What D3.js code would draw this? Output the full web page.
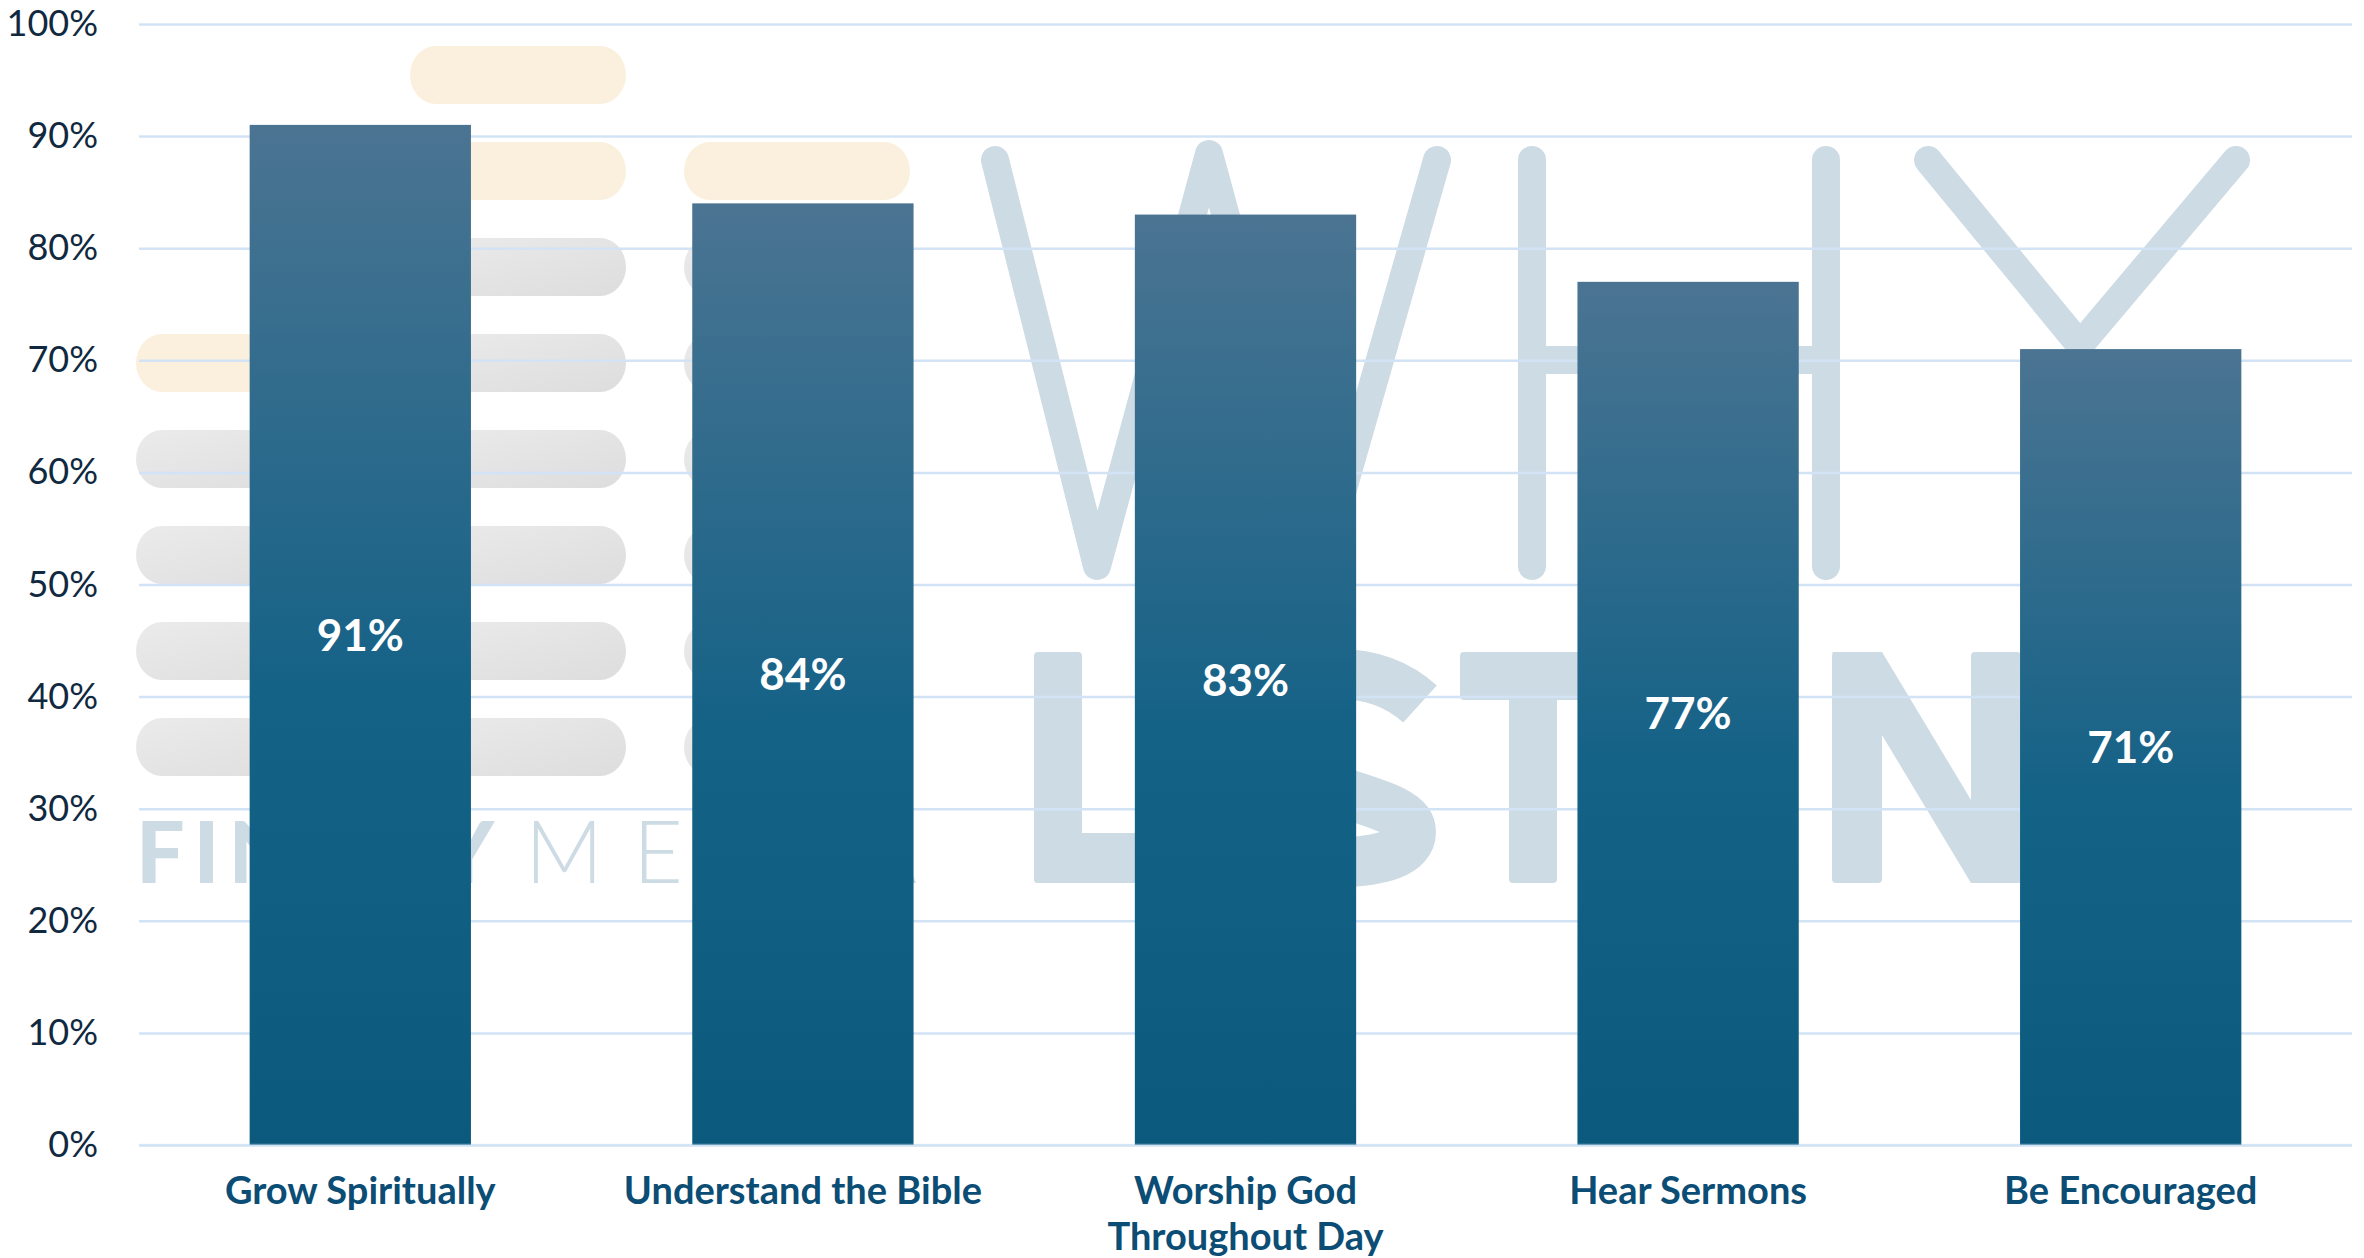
<!DOCTYPE html>
<html><head><meta charset="utf-8">
<script src="https://cdn.jsdelivr.net/npm/d3@7"></script>
<style>
html,body{margin:0;padding:0;background:#fff;}
svg{display:block;}
</style></head>
<body>
<svg id="chart" width="2364" height="1258"></svg>
<script>
// ---------- DATA ----------
const categories = ["Grow Spiritually", "Understand the Bible", "Worship God Throughout Day", "Hear Sermons", "Be Encouraged"];
const values = [91, 84, 83, 77, 71];
const yTicks = [0, 10, 20, 30, 40, 50, 60, 70, 80, 90, 100];
const yTickLabels = ["0%", "10%", "20%", "30%", "40%", "50%", "60%", "70%", "80%", "90%", "100%"];
const valueLabels = ["91%", "84%", "83%", "77%", "71%"];

// ---------- SETUP ----------
const W = 2364, H = 1258;
const plot = {left: 139, right: 2352, top: 24, bottom: 1145};
const FONT = "Lato, 'Open Sans', sans-serif";
const svg = d3.select("#chart");

const x = d3.scaleBand().domain(categories).range([plot.left, plot.right]).paddingInner(0.5).paddingOuter(0.25);
const y = d3.scaleLinear().domain([0, 100]).range([plot.bottom, plot.top]);

const defs = svg.append("defs");
const bg = defs.append("linearGradient").attr("id", "barGrad").attr("x1", 0).attr("y1", 0).attr("x2", 0).attr("y2", 1);
[[0, "#4b7492"], [0.28, "#2f6b8c"], [0.55, "#156287"], [1, "#0b5a7d"]].forEach(s =>
  bg.append("stop").attr("offset", s[0]).attr("stop-color", s[1]));
const pg = defs.append("linearGradient").attr("id", "pillGrey").attr("x1", 0).attr("y1", 0).attr("x2", 1).attr("y2", 1);
pg.append("stop").attr("offset", 0).attr("stop-color", "#ebebeb");
pg.append("stop").attr("offset", 1).attr("stop-color", "#dddddd");

// ---------- BACKGROUND WATERMARK (decoration) ----------
const wm = svg.append("g").attr("class", "watermark");
const WMC = "#cddbe4";
const cream = "#faf0dd", grey = "url(#pillGrey)";
const colLeft = [136, 410, 684], colW = [216, 216, 226];
const pillRows = [
  [null, cream, null],
  [null, cream, cream],
  [null, grey, grey],
  [cream, grey, grey],
  [grey, grey, grey],
  [grey, grey, grey],
  [grey, grey, grey],
  [grey, grey, grey]
];
pillRows.forEach((row, r) => row.forEach((c, ci) => {
  if (!c) return;
  wm.append("rect").attr("x", colLeft[ci]).attr("y", 46 + r * 96)
    .attr("width", colW[ci]).attr("height", 58).attr("rx", 26).attr("ry", 29).attr("fill", c);
}));
wm.append("text").attr("x", 136).attr("y", 883).attr("font-family", FONT).attr("font-weight", 900)
  .attr("font-size", 86).attr("fill", WMC).attr("textLength", 358).attr("lengthAdjust", "spacing").text("FINNEY");
wm.append("text").attr("x", 525).attr("y", 883).attr("font-family", FONT).attr("font-weight", 300)
  .attr("font-size", 86).attr("fill", WMC).attr("letter-spacing", 30).text("MEDIA");

// WHY (thin strokes)
const thin = wm.append("g").attr("fill", "none").attr("stroke", WMC).attr("stroke-width", 28)
  .attr("stroke-linecap", "round").attr("stroke-linejoin", "round");
thin.append("polyline").attr("points", "995,160 1097,566 1209,154 1321,566 1437,160");
thin.append("line").attr("x1", 1532).attr("y1", 160).attr("x2", 1532).attr("y2", 566);
thin.append("line").attr("x1", 1826).attr("y1", 160).attr("x2", 1826).attr("y2", 566);
thin.append("line").attr("x1", 1532).attr("y1", 360).attr("x2", 1826).attr("y2", 360).attr("stroke-linecap", "butt");
thin.append("polyline").attr("points", "1928,160 2080,345 2236,160");
thin.append("line").attr("x1", 2080).attr("y1", 345).attr("x2", 2080).attr("y2", 566);

// LISTEN (bold)
const bold = wm.append("g").attr("fill", WMC);
bold.append("rect").attr("x", 1034).attr("y", 652).attr("width", 48).attr("height", 231).attr("rx", 4);
bold.append("rect").attr("x", 1034).attr("y", 833).attr("width", 126).attr("height", 50).attr("rx", 4);
bold.append("rect").attr("x", 1190).attr("y", 652).attr("width", 48).attr("height", 231).attr("rx", 4);
bold.append("path").attr("fill", "none").attr("stroke", WMC).attr("stroke-width", 50)
  .attr("d", "M1420,704 C1398,684 1372,674 1338,674 C1292,674 1264,700 1264,732 C1264,768 1300,778 1340,792 C1385,806 1411,814 1411,832 C1411,852 1382,862 1338,862 C1300,862 1274,852 1256,834");
bold.append("rect").attr("x", 1460).attr("y", 652).attr("width", 146).attr("height", 48).attr("rx", 4);
bold.append("rect").attr("x", 1509).attr("y", 652).attr("width", 48).attr("height", 231).attr("rx", 4);
bold.append("rect").attr("x", 1640).attr("y", 652).attr("width", 48).attr("height", 231);
bold.append("rect").attr("x", 1640).attr("y", 652).attr("width", 130).attr("height", 48);
bold.append("rect").attr("x", 1640).attr("y", 744).attr("width", 115).attr("height", 46);
bold.append("rect").attr("x", 1640).attr("y", 835).attr("width", 130).attr("height", 48);
bold.append("rect").attr("x", 1832).attr("y", 652).attr("width", 50).attr("height", 231).attr("rx", 4);
bold.append("rect").attr("x", 1971).attr("y", 652).attr("width", 50).attr("height", 231).attr("rx", 4);
bold.append("polygon").attr("points", "1832,652 1882,652 2021,883 1971,883");

// ---------- GRIDLINES ----------
const grid = svg.append("g").attr("transform", `translate(${plot.left},0)`)
  .call(d3.axisLeft(y).tickValues(yTicks).tickSize(-(plot.right - plot.left)).tickFormat(""));
grid.select(".domain").remove();
grid.selectAll("line").attr("stroke", "#d2e3f5").attr("stroke-width", 2.5);

// ---------- BARS ----------
svg.append("g").selectAll("rect").data(values).join("rect")
  .attr("x", (d, i) => x(categories[i]))
  .attr("y", d => y(d))
  .attr("width", x.bandwidth())
  .attr("height", d => y(0) - y(d))
  .attr("fill", "url(#barGrad)");

// baseline overlay
svg.append("line").attr("x1", plot.left).attr("x2", plot.right).attr("y1", y(0)).attr("y2", y(0))
  .attr("stroke", "#cfe1f4").attr("stroke-width", 2.5).attr("stroke-opacity", 0.5);

// value labels
svg.append("g").selectAll("text").data(values).join("text")
  .attr("x", (d, i) => x(categories[i]) + x.bandwidth() / 2)
  .attr("y", d => (y(d) + y(0)) / 2)
  .attr("dy", "0.36em")
  .attr("text-anchor", "middle")
  .attr("font-family", FONT).attr("font-weight", 700).attr("font-size", 44).attr("fill", "#ffffff")
  .text((d, i) => valueLabels[i]);

// ---------- Y AXIS ----------
const yAxis = svg.append("g").attr("transform", `translate(${plot.left},0)`)
  .call(d3.axisLeft(y).tickValues(yTicks).tickSize(0).tickPadding(41).tickFormat((d, i) => yTickLabels[i]));
yAxis.select(".domain").remove();
yAxis.selectAll("text").attr("font-family", FONT).attr("font-size", 36).attr("fill", "#10293f");

// ---------- X AXIS ----------
const xAxis = svg.append("g").attr("transform", `translate(0,${plot.bottom})`)
  .call(d3.axisBottom(x).tickSize(0).tickPadding(0));
xAxis.select(".domain").remove();
xAxis.selectAll("text").attr("font-family", FONT).attr("font-weight", 700).attr("font-size", 38)
  .attr("fill", "#0b4d74").attr("y", 59).attr("dy", 0)
  .each(function () {
    const t = d3.select(this);
    const words = t.text().split(" ");
    t.text(null);
    let line = [], tspan = t.append("tspan").attr("x", 0).attr("dy", 0);
    words.forEach(w => {
      line.push(w);
      tspan.text(line.join(" "));
      if (tspan.node().getComputedTextLength() > 400 && line.length > 1) {
        line.pop();
        tspan.text(line.join(" "));
        line = [w];
        tspan = t.append("tspan").attr("x", 0).attr("dy", 45.6).text(w);
      }
    });
  });
</script>
</body></html>
